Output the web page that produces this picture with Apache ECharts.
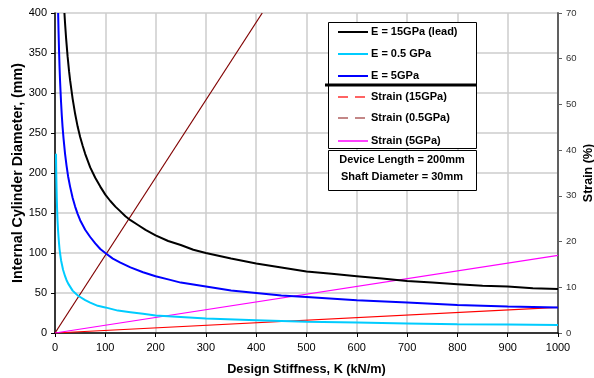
<!DOCTYPE html>
<html>
<head>
<meta charset="utf-8">
<script src="https://cdn.jsdelivr.net/npm/echarts@6/dist/echarts.min.js"></script>
<style>
html,body{margin:0;padding:0;background:#fff;}
#chart{width:594px;height:378px;}
</style>
</head>
<body>
<div id="chart"></div>
<script>
// Diameter curves (left axis, mm) vs design stiffness K (kN/m)
const kBlack = [18.75,20,22,25,28,30,35,40,45,50,55,60,70,80,90,100,110,120,130,140,150,165,180,200,225,250,275,300,350,400,450,500,550,600,650,700,750,800,850,900,950,1000];
const dBlack = [400,387,369,346,327,316,293,274,258,245,234,224,207,194,183,173,165,158,152,146,141,135,129,122,115,110,104,100,93,87,82,77,74,71,68,65,63,61,59,58,56,55];
const kBlue = [6.25,7,8,9,10,11,12,13.5,15,17,20,23,26,30,35,40,45,50,60,70,80,90,100,115,130,150,175,200,225,250,300,350,400,450,500,600,700,800,900,1000];
const dBlue = [400,378,354,333,316,302,289,272,258,243,224,209,196,183,169,158,149,141,129,120,112,105,100,93,88,82,76,71,67,63,58,53,50,47,45,41,38,35,33,32];
const kCyan = [2,2.3,2.6,3,3.5,4,4.5,5,6,7,8,9,10,12,14,16,18,20,23,26,30,35,40,45,50,60,70,85,100,125,150,175,200,250,300,400,500,600,700,800,900,1000];
const dCyan = [224,208,196,183,169,158,149,141,129,120,112,105,100,91,85,79,75,71,66,62,58,53,50,47,45,41,38,34,32,28,26,24,22,20,18,16,14,13,12,11,10.5,10];
// Strain lines (right axis, %)
const kStrain = [0, 1000];
const sRed = [0, 5.6];
const sMagenta = [0, 17];
const kDark = [0, 412];
const sDark = [0, 70];
// Legend / annotation texts
const legendNames = ['E = 15GPa (lead)','E = 0.5 GPa','E = 5GPa','Strain (15GPa)','Strain (0.5GPa)','Strain (5GPa)'];
const noteLines = ['Device Length = 200mm','Shaft Diameter = 30mm'];

function pairs(xs, ys){ return xs.map((x,i)=>[x, ys[i]]); }

const FONT = '"Liberation Sans", Arial, sans-serif';
const chart = echarts.init(document.getElementById('chart'));

const legendY = [32,54,76,97,118,141];
const legendStyles = [
  {stroke:'#000000', lineWidth:2},
  {stroke:'#00ccff', lineWidth:2},
  {stroke:'#0000ff', lineWidth:2},
  {stroke:'#ff3030', lineWidth:1.5, lineDash:[10,7]},
  {stroke:'#b06060', lineWidth:1.5, lineDash:[10,7]},
  {stroke:'#ff00ff', lineWidth:1.5}
];
const graphics = [
  {type:'rect', shape:{x:328.5,y:22.5,width:148,height:126}, style:{fill:'#fff',stroke:'#000',lineWidth:1}, z:100},
  {type:'rect', shape:{x:328.5,y:150.5,width:148,height:40}, style:{fill:'#fff',stroke:'#000',lineWidth:1}, z:100},
  {type:'line', shape:{x1:325,y1:85,x2:477,y2:85}, style:{stroke:'#000',lineWidth:3}, z:101}
];
legendNames.forEach((n,i)=>{
  graphics.push({type:'line', shape:{x1:338,y1:legendY[i],x2:368,y2:legendY[i]}, style:legendStyles[i], z:101});
  graphics.push({type:'text', x:371, y:legendY[i], style:{text:n, font:'bold 11px '+FONT, fill:'#000', textVerticalAlign:'middle', verticalAlign:'middle'}, z:101});
});
noteLines.forEach((t,i)=>{
  graphics.push({type:'text', x:402, y:160+i*17, style:{text:t, font:'bold 11px '+FONT, fill:'#000', align:'center', textAlign:'center', verticalAlign:'middle', textVerticalAlign:'middle'}, z:101});
});

chart.setOption({
  animation:false,
  backgroundColor:'#fff',
  grid:{left:55, right:36, top:13, bottom:45, containLabel:false, outerBoundsMode:'none'},
  xAxis:{
    type:'value', min:0, max:1000, interval:100,
    name:'Design Stiffness, K (kN/m)', nameLocation:'middle', nameGap:30, nameMoveOverlap:false,
    nameTextStyle:{fontFamily:FONT, fontWeight:'bold', fontSize:12.7, color:'#000'},
    axisLine:{onZero:false, lineStyle:{color:'#000', width:1.5}},
    axisTick:{show:true, length:4, lineStyle:{color:'#000'}},
    axisLabel:{fontFamily:FONT, fontSize:11, color:'#000', margin:9, formatter:(v)=>String(v)},
    splitLine:{show:true, lineStyle:{color:'#cccccc', width:1.5}}
  },
  yAxis:[{
    type:'value', min:0, max:400, interval:50,
    name:'Internal Cylinder Diameter, (mm)', nameLocation:'middle', nameGap:30, nameMoveOverlap:false,
    nameTextStyle:{fontFamily:FONT, fontWeight:'bold', fontSize:14.3, color:'#000'},
    axisLine:{show:true, lineStyle:{color:'#000', width:1.5}},
    axisTick:{show:true, length:4, lineStyle:{color:'#000'}},
    axisLabel:{fontFamily:FONT, fontSize:11, color:'#000', margin:8},
    splitLine:{show:true, lineStyle:{color:'#cccccc', width:1.5}}
  },{
    type:'value', min:0, max:70, interval:10, position:'right',
    name:'Strain (%)', nameLocation:'middle', nameGap:24, nameRotate:90, nameMoveOverlap:false,
    nameTextStyle:{fontFamily:FONT, fontWeight:'bold', fontSize:12.5, color:'#000'},
    axisLine:{show:true, lineStyle:{color:'#606060', width:2}},
    axisTick:{show:true, length:4, lineStyle:{color:'#606060'}},
    axisLabel:{fontFamily:FONT, fontSize:9.5, color:'#333', margin:8},
    splitLine:{show:false}
  }],
  series:[
    {name:legendNames[0], type:'line', data:pairs(kBlack,dBlack), smooth:false, showSymbol:false, lineStyle:{color:'#000000', width:2}, z:5},
    {name:legendNames[1], type:'line', data:pairs(kCyan,dCyan), smooth:false, showSymbol:false, lineStyle:{color:'#00ccff', width:2}, z:5},
    {name:legendNames[2], type:'line', data:pairs(kBlue,dBlue), smooth:false, showSymbol:false, lineStyle:{color:'#0000ff', width:2}, z:5},
    {name:legendNames[3], type:'line', yAxisIndex:1, data:pairs(kStrain,sRed), showSymbol:false, lineStyle:{color:'#ff0000', width:1.2}, z:4},
    {name:legendNames[4], type:'line', yAxisIndex:1, data:pairs(kDark,sDark), showSymbol:false, lineStyle:{color:'#800000', width:1.2}, z:4},
    {name:legendNames[5], type:'line', yAxisIndex:1, data:pairs(kStrain,sMagenta), showSymbol:false, lineStyle:{color:'#ff00ff', width:1.2}, z:4}
  ],
  graphic:graphics
});
</script>
</body>
</html>
